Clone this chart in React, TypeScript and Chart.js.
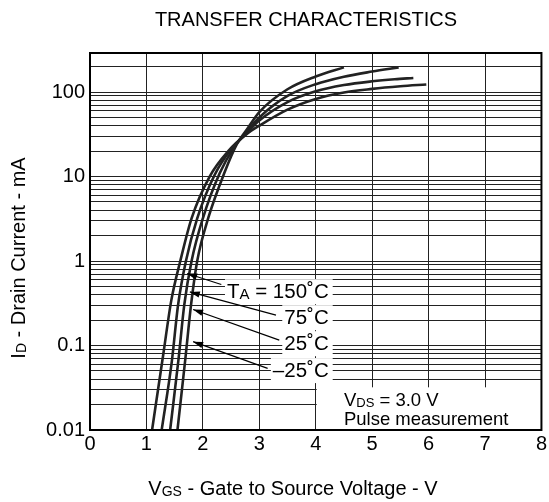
import React, { useEffect, useRef } from "react";
import { Chart, registerables } from "chart.js";

Chart.register(...registerables);

// ---- data (VGS in V, ID in mA) ----
const vgs150 = [1.10, 1.30, 1.44, 1.60, 1.80, 2.12, 2.45, 2.78, 3.0, 3.5, 4.0, 4.5, 5.0, 5.5, 5.96];
const id150 = [0.01, 0.08, 0.34, 1.0, 3.2, 10, 20, 32, 40, 62, 83, 99, 109, 117, 123];

const vgs75 = [1.27, 1.45, 1.56, 1.70, 1.90, 2.21, 2.50, 2.78, 3.0, 3.5, 4.0, 4.5, 5.0, 5.4, 5.73];
const id75 = [0.01, 0.065, 0.3, 1.0, 3.2, 10.5, 21, 33, 46, 76, 102, 121, 134, 142, 147];

const vgs25 = [1.42, 1.57, 1.67, 1.80, 2.00, 2.30, 2.55, 2.78, 3.0, 3.5, 4.0, 4.5, 5.0, 5.47];
const id25 = [0.01, 0.07, 0.3, 1.0, 3.2, 11, 22, 34, 50, 90, 124, 152, 175, 196];

const vgsM25 = [1.55, 1.69, 1.79, 1.90, 2.10, 2.38, 2.60, 2.78, 3.0, 3.5, 4.0, 4.5];
const idM25 = [0.01, 0.07, 0.3, 1.0, 3.3, 11, 24, 36, 58, 108, 153, 196];

const X_TICKS = [0, 1, 2, 3, 4, 5, 6, 7, 8];
const Y_DECADES = [0.01, 0.1, 1, 10, 100];
const Y_TICK_LABELS = ["0.01", "0.1", "1", "10", "100"];
const Y_MAX = 290;

const TEMP_LABELS = ["150˚C", "75˚C", "25˚C", "–25˚C"];
const TITLE = "TRANSFER CHARACTERISTICS";
const X_TITLE = [["V", false], ["GS", true], [" - Gate to Source Voltage - V", false]];
const Y_TITLE = [["I", false], ["D", true], [" - Drain Current - mA", false]];
const NOTE_1 = [["V", false], ["DS", true], [" = 3.0 V", false]];
const NOTE_2 = "Pulse measurement";

const FONT = "'Liberation Sans', Arial, Helvetica, sans-serif";

// annotation anchors in data coordinates
const LABEL_RIGHT_V = 4.23;
const LABEL_BASE_I = [0.363, 0.179, 0.088, 0.0423];
const ARROWS = [
  [1.722, 0.711, 2.327, 0.527],
  [1.769, 0.431, 3.296, 0.229],
  [1.827, 0.267, 3.354, 0.116],
  [1.827, 0.111, 3.148, 0.0536],
];

function buildGrid() {
  const v: number[] = [];
  for (const d of Y_DECADES) {
    for (let k = 1; k <= 9; k++) {
      const val = +(d * k).toPrecision(6);
      if (val <= Y_MAX) v.push(val);
    }
  }
  return v;
}
const Y_GRID = buildGrid();

function drawParts(ctx: CanvasRenderingContext2D, parts: any[], x: number, y: number, align: string, size: number) {
  const main = `${size}px ${FONT}`;
  const sub = `${Math.round(size * 0.72)}px ${FONT}`;
  const widths = parts.map((p) => {
    ctx.font = p[1] ? sub : main;
    return ctx.measureText(p[0]).width;
  });
  const total = widths.reduce((a, b) => a + b, 0);
  let cx = align === "right" ? x - total : align === "center" ? x - total / 2 : x;
  const left = cx;
  ctx.textAlign = "left";
  ctx.textBaseline = "alphabetic";
  parts.forEach((p, i) => {
    ctx.font = p[1] ? sub : main;
    ctx.fillText(p[0], cx, y + (p[1] ? 1 : 0));
    cx += widths[i];
  });
  return { left, right: left + total };
}

const LABEL_SIZE = 20.5;

const annotPlugin = {
  id: "annot",
  beforeDatasetsDraw(chart: any) {
    const { ctx, scales } = chart;
    const x = scales.x, y = scales.y;
    ctx.save();
    ctx.fillStyle = "#fff";
    // VDS note box
    const l = x.getPixelForValue(4) + 1;
    const r = x.getPixelForValue(8);
    const t = y.getPixelForValue(0.032);
    const b = y.getPixelForValue(0.01);
    ctx.fillRect(l, t, r - l, b - t);
    // temperature label boxes
    TEMP_LABELS.forEach((txt, i) => {
      const parts = i === 0 ? [["T", false], ["A", true], [" = " + txt, false]] : [[txt, false]];
      let w = 0;
      parts.forEach((p: any) => {
        ctx.font = `${p[1] ? Math.round(LABEL_SIZE * 0.72) : LABEL_SIZE}px ${FONT}`;
        w += ctx.measureText(p[0]).width;
      });
      const rx = x.getPixelForValue(LABEL_RIGHT_V);
      const by = y.getPixelForValue(LABEL_BASE_I[i]);
      ctx.fillRect(rx - w - 2, by - 19, w + 6, 25);
    });
    ctx.restore();
  },
  afterDatasetsDraw(chart: any) {
    const { ctx, scales, chartArea } = chart;
    const x = scales.x, y = scales.y;
    ctx.save();
    ctx.fillStyle = "#000";
    ctx.strokeStyle = "#000";
    // labels
    TEMP_LABELS.forEach((txt, i) => {
      const parts = i === 0 ? [["T", false], ["A", true], [" = " + txt, false]] : [[txt, false]];
      drawParts(ctx, parts, x.getPixelForValue(LABEL_RIGHT_V), y.getPixelForValue(LABEL_BASE_I[i]), "right", LABEL_SIZE);
    });
    // arrows
    ARROWS.forEach((a) => {
      const hx = x.getPixelForValue(a[0]), hy = y.getPixelForValue(a[1]);
      const tx = x.getPixelForValue(a[2]), ty = y.getPixelForValue(a[3]);
      ctx.lineWidth = 1.2;
      ctx.beginPath();
      ctx.moveTo(tx, ty);
      ctx.lineTo(hx, hy);
      ctx.stroke();
      const ang = Math.atan2(hy - ty, hx - tx);
      const len = 10, hw = 3.2;
      ctx.beginPath();
      ctx.moveTo(hx, hy);
      ctx.lineTo(hx - len * Math.cos(ang) + hw * Math.sin(ang), hy - len * Math.sin(ang) - hw * Math.cos(ang));
      ctx.lineTo(hx - len * Math.cos(ang) - hw * Math.sin(ang), hy - len * Math.sin(ang) + hw * Math.cos(ang));
      ctx.closePath();
      ctx.fill();
    });
    // note
    const nx = x.getPixelForValue(4.5);
    drawParts(ctx, NOTE_1, nx, 406, "left", 18.5);
    ctx.font = `18.5px ${FONT}`;
    ctx.fillText(NOTE_2, nx, 425);
    // frame
    ctx.lineWidth = 2;
    ctx.strokeRect(chartArea.left, chartArea.top, chartArea.right - chartArea.left, chartArea.bottom - chartArea.top);
    // title
    ctx.font = `20px ${FONT}`;
    ctx.textAlign = "center";
    ctx.textBaseline = "alphabetic";
    ctx.fillText(TITLE, 306, 26);
    // x title
    drawParts(ctx, X_TITLE, 293, 495, "center", 20);
    // y title
    ctx.translate(25, 258);
    ctx.rotate(-Math.PI / 2);
    drawParts(ctx, Y_TITLE, 0, 0, "center", 20);
    ctx.restore();
  },
};

export default function App() {
  const ref = useRef<HTMLCanvasElement>(null);
  useEffect(() => {
    const mk = (xs: number[], ys: number[]) => xs.map((v, i) => ({ x: v, y: ys[i] }));
    const ds = (xs: number[], ys: number[]) => ({
      data: mk(xs, ys),
      borderColor: "#222",
      borderWidth: 2.6,
      pointRadius: 0,
      fill: false,
      cubicInterpolationMode: "monotone",
    });
    const chart = new Chart(ref.current as HTMLCanvasElement, {
      type: "line",
      data: {
        datasets: [ds(vgs150, id150), ds(vgs75, id75), ds(vgs25, id25), ds(vgsM25, idM25)] as any,
      },
      plugins: [annotPlugin],
      options: {
        responsive: false,
        animation: false,
        devicePixelRatio: 1,
        layout: { padding: { top: 53, right: 6, left: 0, bottom: 0 } },
        plugins: { legend: { display: false }, tooltip: { enabled: false }, title: { display: false } },
        scales: {
          x: {
            type: "linear",
            min: 0,
            max: 8,
            afterBuildTicks: (s: any) => {
              s.ticks = X_TICKS.map((v) => ({ value: v }));
            },
            ticks: { color: "#000", font: { family: FONT, size: 20 }, padding: 2, maxRotation: 0, autoSkip: false },
            grid: { color: "#222", lineWidth: 1, drawTicks: false },
            border: { display: false },
            afterFit: (s: any) => {
              s.height = 72;
            },
          },
          y: {
            type: "logarithmic",
            min: 0.01,
            max: Y_MAX,
            afterBuildTicks: (s: any) => {
              s.ticks = Y_GRID.map((v) => ({ value: v }));
            },
            ticks: {
              color: "#000",
              font: { family: FONT, size: 20 },
              padding: 5,
              autoSkip: false,
              callback: (v: any) => {
                const idx = Y_DECADES.findIndex((d) => Math.abs(Math.log10(d) - Math.log10(v)) < 1e-6);
                return idx >= 0 ? Y_TICK_LABELS[idx] : "";
              },
            },
            grid: { color: "#222", lineWidth: 1, drawTicks: false },
            border: { display: false },
            afterFit: (s: any) => {
              s.width = 90;
            },
          },
        },
      } as any,
    });
    return () => chart.destroy();
  }, []);
  return (
    <div style={{ position: "absolute", left: 0, top: 0, width: 549, height: 502, background: "#fff" }}>
      <canvas ref={ref} width={549} height={502} style={{ display: "block" }} />
    </div>
  );
}
